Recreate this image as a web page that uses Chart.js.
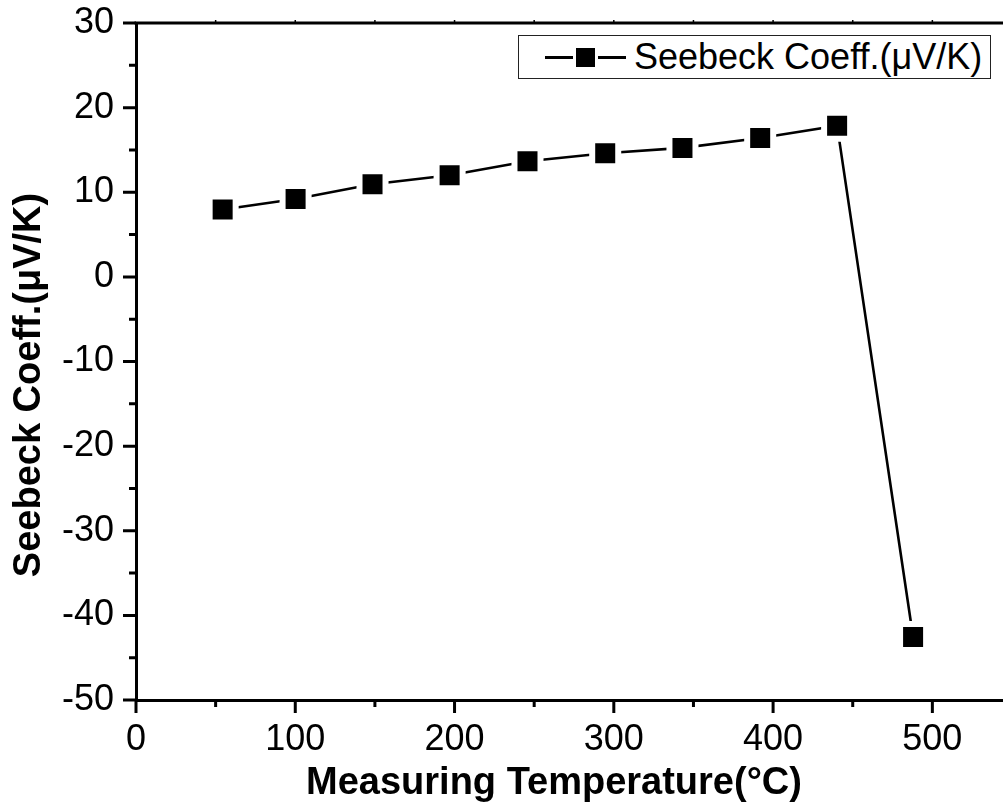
<!DOCTYPE html>
<html>
<head>
<meta charset="utf-8">
<script src="https://cdn.jsdelivr.net/npm/chart.js@4.4.1/dist/chart.umd.min.js"></script>
<style>
  html, body { margin: 0; padding: 0; background: #fff; overflow: hidden; }
  #wrap { position: relative; width: 1003px; height: 807px; overflow: hidden; }
  #chart { position: absolute; left: 0; top: 0; }
  .legend {
    position: absolute; left: 518px; top: 35px; width: 473px; height: 44px;
    border: 1.5px solid #222; background: #fff;
    display: flex; align-items: center; box-sizing: border-box;
    font-family: "Liberation Sans", Arial, sans-serif; font-size: 36px; color: #000;
  }
  .legend .ln { width: 28px; height: 3px; background: #000; }
  .legend .sq { width: 19px; height: 19px; background: #000; margin: 0 3px; }
  .legend .tx { margin-left: 8px; white-space: nowrap; }
</style>
</head>
<body>
<div id="wrap">
  <canvas id="chart" width="1020" height="807"></canvas>
  <div class="legend">
    <span class="ln" style="margin-left:26px"></span><span class="sq"></span><span class="ln"></span>
    <span class="tx">Seebeck Coeff.(μV/K)</span>
  </div>
</div>
<script>
// temperatura (°C) y coeficiente Seebeck (µV/K)
const temps = [54.4, 100.2, 148.5, 196.9, 245.8, 294.6, 343.1, 391.9, 440.2, 487.9];
const seebeck = [7.96, 9.21, 10.94, 12.0, 13.66, 14.6, 15.24, 16.42, 17.87, -42.55];

const xTicks = [0, 100, 200, 300, 400, 500];
const xMinor = [50, 150, 250, 350, 450];
const yTicks = [30, 20, 10, 0, -10, -20, -30, -40, -50];
const yMinor = [25, 15, 5, -5, -15, -25, -35, -45];

const xTitle = 'Measuring Temperature(°C)';
const yTitle = 'Seebeck Coeff.(μV/K)';

const FONT = '"Liberation Sans", Arial, sans-serif';

// marco, ticks menores y títulos estilo Origin
const axisDecor = {
    id: 'axisDecor',
    afterDraw(chart) {
        const { ctx, chartArea: a, scales: { x, y } } = chart;
        ctx.save();
        ctx.strokeStyle = '#000';
        ctx.lineWidth = 3;

        ctx.beginPath();
        ctx.moveTo(a.left - 1.5, a.top);
        ctx.lineTo(a.right, a.top);
        ctx.lineTo(a.right, a.bottom);
        ctx.stroke();

        ctx.beginPath();
        xTicks.forEach(v => {
            const px = x.getPixelForValue(v);
            ctx.moveTo(px, a.bottom); ctx.lineTo(px, a.bottom + 13);
        });
        xMinor.forEach(v => {
            const px = x.getPixelForValue(v);
            ctx.moveTo(px, a.bottom); ctx.lineTo(px, a.bottom + 7);
        });
        yTicks.forEach(v => {
            const py = y.getPixelForValue(v);
            ctx.moveTo(a.left, py); ctx.lineTo(a.left - 13, py);
        });
        yMinor.forEach(v => {
            const py = y.getPixelForValue(v);
            ctx.moveTo(a.left, py); ctx.lineTo(a.left - 7, py);
        });
        ctx.stroke();

        ctx.lineWidth = 1.5;
        ctx.beginPath();
        xTicks.concat(xMinor).forEach(v => {
            const px = x.getPixelForValue(v);
            if (px > a.left + 2) { ctx.moveTo(px, a.top - 3); ctx.lineTo(px, a.top); }
        });
        ctx.stroke();

        ctx.fillStyle = '#000';
        ctx.font = 'bold 38px ' + FONT;
        ctx.textAlign = 'center';
        ctx.textBaseline = 'middle';
        ctx.fillText(xTitle, 554, 784);

        ctx.translate(30, 385);
        ctx.rotate(-Math.PI / 2);
        ctx.fillText(yTitle, 0, 0);
        ctx.restore();
    }
};

new Chart(document.getElementById('chart'), {
    type: 'line',
    data: {
        datasets: [{
            data: temps.map((t, i) => ({ x: t, y: seebeck[i] })),
            borderColor: '#000',
            borderWidth: 2.6,
            pointStyle: 'rect',
            pointRadius: 18.4,
            pointBackgroundColor: '#000',
            pointBorderColor: '#fff',
            pointBorderWidth: 6,
            tension: 0,
            fill: false
        }]
    },
    options: {
        responsive: false,
        animation: false,
        events: [],
        layout: { autoPadding: false, padding: { top: 23, right: 8, left: 0, bottom: 0 } },
        plugins: {
            legend: { display: false },
            tooltip: { enabled: false }
        },
        scales: {
            x: {
                type: 'linear',
                min: 0, max: 550,
                grid: { display: false },
                border: { display: true, color: '#000', width: 3 },
                afterBuildTicks: s => { s.ticks = xTicks.map(v => ({ value: v })); },
                afterFit: s => { s.height = 107; s.paddingLeft = 0; s.paddingRight = 0; },
                ticks: {
                    color: '#000',
                    padding: 10,
                    maxRotation: 0,
                    autoSkip: false,
                    font: { family: FONT, size: 36 }
                }
            },
            y: {
                type: 'linear',
                min: -50, max: 30,
                grid: { display: false },
                border: { display: true, color: '#000', width: 3 },
                afterBuildTicks: s => { s.ticks = yTicks.map(v => ({ value: v })); },
                afterFit: s => { s.width = 136; s.paddingTop = 0; s.paddingBottom = 0; },
                ticks: {
                    color: '#000',
                    padding: 14,
                    autoSkip: false,
                    font: { family: FONT, size: 36 }
                }
            }
        }
    },
    plugins: [axisDecor]
});
</script>
</body>
</html>
